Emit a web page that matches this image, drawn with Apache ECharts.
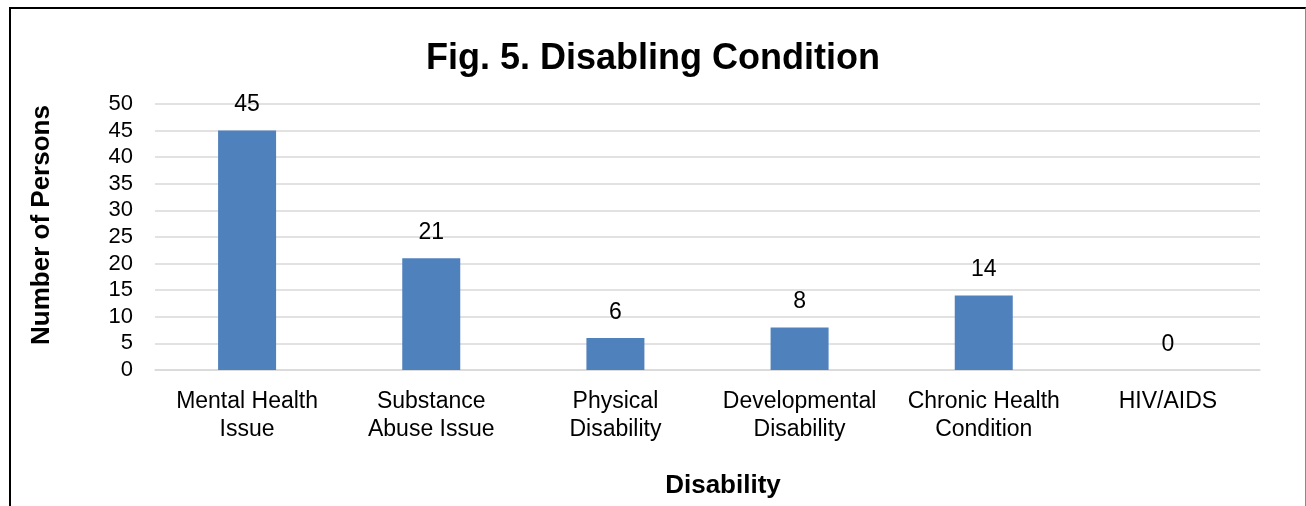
<!DOCTYPE html>
<html>
<head>
<meta charset="utf-8">
<script src="https://cdn.jsdelivr.net/npm/echarts@6/dist/echarts.min.js"></script>
<style>
  html, body { margin: 0; padding: 0; background: #fff; }
  #chart { position: absolute; left: 0; top: 0; width: 1306px; height: 506px; }
  #frame { position: absolute; left: 9px; top: 7px; width: 1294px; height: 520px;
           border-left: 2px solid #000; border-top: 2px solid #000; border-right: 1px solid #8a8a8a;
           pointer-events: none; }
</style>
</head>
<body>
<div id="chart"></div>
<div id="frame"></div>
<script>
const categories = ['Mental Health\nIssue', 'Substance\nAbuse Issue', 'Physical\nDisability', 'Developmental\nDisability', 'Chronic Health\nCondition', 'HIV/AIDS'];
const values = [45, 21, 6, 8, 14, 0];
const yMin = 0;
const yMax = 50;
const yInterval = 5;
const titleText = 'Fig. 5. Disabling Condition';
const xAxisName = 'Disability';
const yAxisName = 'Number of Persons';

const FONT = '"Liberation Sans", Arial, Helvetica, sans-serif';
const chart = echarts.init(document.getElementById('chart'), null, { renderer: 'canvas' });
chart.setOption({
  animation: false,
  backgroundColor: '#fff',
  title: {
    text: titleText,
    left: 'center',
    top: 41,
    padding: 0,
    textStyle: { fontFamily: FONT, fontSize: 36, fontWeight: 'bold', color: '#000' }
  },
  grid: { left: 155, right: 46, top: 104, bottom: 136, containLabel: false },
  xAxis: {
    type: 'category',
    data: categories,
    name: xAxisName,
    nameLocation: 'middle',
    nameGap: 103,
    nameTextStyle: { fontFamily: FONT, fontSize: 26, fontWeight: 'bold', color: '#000', padding: [0, 0, 0, 31] },
    axisTick: { show: false },
    axisLine: { lineStyle: { color: '#d9d9d9', width: 1.5 } },
    axisLabel: { fontFamily: FONT, fontSize: 23, lineHeight: 28, color: '#000', margin: 18, interval: 0 }
  },
  yAxis: {
    type: 'value',
    min: yMin,
    max: yMax,
    interval: yInterval,
    name: yAxisName,
    nameLocation: 'middle',
    nameGap: 100,
    nameRotate: 90,
    nameTextStyle: { fontFamily: FONT, fontSize: 26, fontWeight: 'bold', color: '#000', padding: [0, 0, 0, 24] },
    axisLine: { show: false },
    axisTick: { show: false },
    axisLabel: { fontFamily: FONT, fontSize: 22, color: '#000', margin: 22 },
    splitLine: { lineStyle: { color: '#d9d9d9', width: 1.5 } }
  },
  series: [{
    type: 'bar',
    data: values,
    barWidth: 58,
    itemStyle: { color: '#4F81BD' },
    label: { show: true, position: 'top', distance: 14, fontFamily: FONT, fontSize: 23, color: '#000' }
  }]
});
</script>
</body>
</html>
